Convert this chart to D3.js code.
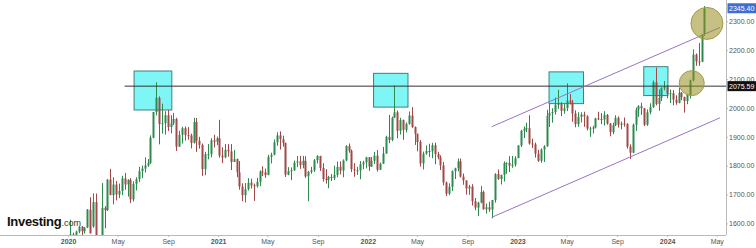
<!DOCTYPE html>
<html>
<head>
<meta charset="utf-8">
<script src="https://cdn.jsdelivr.net/npm/d3@7"></script>
<style>
  html, body { margin: 0; padding: 0; background: #fff; }
  svg { display: block; font-family: "Liberation Sans", Arial, sans-serif; }
</style>
</head>
<body>
<svg id="chart" width="756" height="248"></svg>
<script>
// weekly gold futures candles [open, high, low, close], one array per year
const start2020 = "2019-12-30";
const weeks2020 = [
  [1519,1553,1515,1552],[1552,1613,1548,1562],[1562,1568,1536,1560],[1560,1575,1550,1572],
  [1572,1591,1566,1589],[1589,1591,1549,1573],[1573,1588,1565,1586],[1586,1650,1584,1648],
  [1648,1691,1565,1566],[1590,1704,1585,1674],[1674,1704,1507,1530],[1530,1560,1451,1484],
  [1484,1740,1482,1654],[1654,1660,1583,1646],[1646,1753,1643,1752],[1752,1789,1700,1698],
  [1698,1760,1666,1735],[1735,1747,1680,1700],[1700,1738,1688,1713],[1713,1765,1698,1756],
  [1756,1775,1717,1735],[1735,1753,1693,1751],[1751,1757,1671,1683],[1683,1746,1676,1737],
  [1737,1760,1714,1753],[1753,1796,1743,1781],[1781,1800,1757,1790],[1790,1829,1776,1801],
  [1801,1823,1796,1810],[1810,1905,1806,1897],[1897,1985,1895,1986],[1986,2089,1974,2035],
  [2035,2040,1874,1944],[1944,2015,1911,1947],[1947,1989,1908,1975],[1975,1993,1920,1934],
  [1934,1975,1912,1947],[1947,1983,1941,1962],[1962,1966,1851,1866],[1866,1921,1866,1907],
  [1907,1935,1877,1930],[1930,1936,1887,1906],[1906,1934,1890,1905],[1905,1911,1860,1879],
  [1879,1966,1877,1951],[1951,1965,1848,1886],[1886,1900,1859,1872],[1872,1877,1765,1788],
  [1788,1848,1767,1840],[1840,1875,1822,1840],[1840,1895,1829,1888],[1888,1907,1863,1883],
  [1883,1901,1871,1895]
];
const start2021 = "2021-01-04";
const weeks2021 = [
  [1895,1959,1828,1835],[1835,1864,1809,1829],[1829,1875,1826,1855],[1855,1875,1831,1850],
  [1850,1875,1785,1813],[1813,1855,1813,1823],[1823,1825,1760,1777],[1777,1816,1717,1728],
  [1728,1739,1677,1698],[1698,1740,1673,1719],[1719,1757,1714,1741],[1741,1755,1721,1732],
  [1732,1738,1678,1729],[1729,1758,1724,1744],[1744,1784,1729,1780],[1780,1798,1764,1777],
  [1777,1790,1758,1768],[1768,1838,1767,1831],[1831,1845,1808,1838],[1838,1891,1836,1881],
  [1881,1916,1869,1905],[1905,1919,1856,1892],[1892,1904,1866,1879],[1879,1880,1761,1769],
  [1769,1795,1767,1781],[1781,1794,1750,1784],[1784,1818,1782,1811],[1811,1834,1795,1815],
  [1815,1834,1789,1802],[1802,1834,1791,1817],[1817,1833,1758,1763],[1763,1782,1677,1779],
  [1779,1796,1772,1784],[1784,1823,1778,1819],[1819,1836,1808,1834],[1834,1834,1782,1792],
  [1792,1809,1745,1754],[1754,1788,1738,1751],[1751,1765,1722,1761],[1761,1771,1747,1757],
  [1757,1800,1750,1768],[1768,1814,1760,1796],[1796,1815,1770,1783],[1783,1822,1760,1818],
  [1818,1871,1816,1868],[1868,1877,1845,1852],[1852,1856,1778,1788],[1788,1809,1762,1784],
  [1784,1796,1768,1784],[1784,1816,1753,1805],[1805,1817,1788,1811],[1811,1831,1791,1829]
];
const start2022 = "2022-01-03";
const weeks2022 = [
  [1829,1830,1782,1797],[1797,1830,1796,1817],[1817,1848,1806,1835],[1835,1854,1780,1786],
  [1786,1811,1785,1807],[1807,1865,1806,1842],[1842,1904,1842,1900],[1900,1976,1878,1889],
  [1889,1970,1885,1966],[1966,2078,1965,1985],[1985,1991,1895,1921],[1921,1966,1908,1958],
  [1958,1960,1890,1924],[1924,1950,1915,1945],[1945,1988,1942,1974],[1974,2003,1931,1934],
  [1934,1936,1872,1911],[1911,1911,1850,1882],[1882,1889,1797,1808],[1808,1849,1787,1842],
  [1842,1870,1838,1851],[1851,1876,1830,1850],[1850,1879,1826,1871],[1871,1880,1805,1840],
  [1840,1848,1822,1829],[1829,1836,1785,1801],[1801,1813,1732,1742],[1742,1745,1695,1703],
  [1703,1739,1698,1727],[1727,1784,1712,1781],[1781,1793,1754,1791],[1791,1825,1781,1815],
  [1815,1825,1759,1762],[1762,1773,1734,1749],[1749,1749,1700,1721],[1721,1734,1699,1728],
  [1728,1736,1662,1677],[1677,1688,1646,1655],[1655,1675,1626,1672],[1672,1730,1670,1709],
  [1709,1714,1648,1649],[1649,1669,1634,1656],[1656,1675,1640,1648],[1648,1680,1618,1681],
  [1681,1774,1672,1771],[1771,1787,1751,1754],[1754,1769,1735,1768],[1768,1815,1745,1809],
  [1809,1812,1772,1810],[1810,1833,1778,1800],[1800,1834,1793,1804],[1804,1833,1797,1826]
];
const start2023 = "2023-01-02";
const weeks2023 = [
  [1826,1871,1830,1870],[1870,1924,1865,1921],[1921,1936,1896,1928],[1928,1949,1916,1930],
  [1930,1975,1873,1877],[1877,1894,1861,1874],[1874,1880,1828,1842],[1842,1855,1813,1817],
  [1817,1860,1810,1856],[1856,1871,1813,1867],[1867,1994,1866,1973],[1973,2014,1934,1983],
  [1983,1999,1949,1986],[1986,2036,1977,2011],[2011,2063,1997,2015],[2015,2020,1972,1990],
  [1990,2015,1980,1999],[1999,2085,1989,2025],[2025,2048,2012,2019],[2019,2028,1952,1981],
  [1981,1992,1933,1944],[1944,1985,1935,1969],[1969,1985,1950,1977],[1977,1987,1935,1971],
  [1971,1975,1922,1929],[1929,1935,1900,1929],[1929,1938,1912,1932],[1932,1966,1929,1964],
  [1964,1987,1958,1962],[1962,1982,1944,1960],[1960,1989,1939,1976],[1976,1979,1942,1946],
  [1946,1948,1902,1916],[1916,1949,1909,1940],[1940,1975,1937,1966],[1966,1971,1932,1942],
  [1942,1953,1926,1946],[1946,1967,1935,1945],[1945,1947,1859,1866],[1866,1874,1823,1845],
  [1845,1946,1843,1942],[1942,2002,1920,1994],[1994,2010,1969,2006],[2006,2018,1976,1999],
  [1999,2000,1937,1942],[1942,1995,1938,1985],[1985,2016,1978,2003],[2003,2095,2000,2089],
  [2089,2140,2009,2014],[2014,2064,1990,2035],[2035,2072,2024,2069],[2069,2093,2061,2072]
];
const start2024 = "2024-01-01";
const weeks2024 = [
  [2072,2079,2034,2049],[2049,2064,2017,2051],[2051,2062,2009,2029],[2029,2044,2011,2018],
  [2018,2071,2016,2053],[2053,2055,2027,2038],[2038,2039,1984,2024],[2024,2049,2013,2045],
  [2045,2098,2033,2096],[2096,2203,2092,2185],[2185,2189,2146,2161],[2161,2225,2146,2160],
  [2160,2256,2160,2254],[2257,2353,2250,2345.4]
];

const yTicks = [1600, 1700, 1800, 1900, 2000, 2100, 2200, 2300];
const xTicks = ["2020-01-01","2020-05-01","2020-09-01","2021-01-01","2021-05-01","2021-09-01",
  "2022-01-01","2022-05-01","2022-09-01","2023-01-01","2023-05-01","2023-09-01",
  "2024-01-01","2024-05-01"];

// annotations: resistance level, boxes, channel, circles
const resistance = { from: "2020-05-18", price: 2075.59 };
const lastPrice = 2345.40;
const boxes = [
  ["2020-06-10", "2020-09-10", 2128, 1993],
  ["2022-01-15", "2022-04-09", 2120, 2003],
  ["2023-03-19", "2023-06-11", 2125, 2015],
  ["2023-11-05", "2024-01-03", 2143, 2043]
];
const channel = [
  ["2022-10-30", 1935, "2024-05-09", 2279],
  ["2022-10-30", 1621, "2024-05-09", 1966]
];
const circles = [
  ["2024-03-01", 2086, 12.5],
  ["2024-04-07", 2293, 16]
];

const parse = d3.utcParse("%Y-%m-%d");

function toCandles(startStr, rows) {
  const start = parse(startStr);
  return rows.map((r, i) => ({ date: d3.utcWeek.offset(start, i), o: r[0], h: r[1], l: r[2], c: r[3] }));
}

const candles = [].concat(
  toCandles(start2020, weeks2020),
  toCandles(start2021, weeks2021),
  toCandles(start2022, weeks2022),
  toCandles(start2023, weeks2023),
  toCandles(start2024, weeks2024)
);

const svg = d3.select("#chart");
const plotW = 726, plotH = 235;

const x = d3.scaleUtc()
  .domain([parse("2019-07-19"), parse("2024-05-26")])
  .range([0, 727]);

const y = d3.scaleLinear()
  .domain([1560, 2374])
  .range([plotH, 0]);

svg.append("defs").append("clipPath").attr("id", "plot-clip")
  .append("rect").attr("width", plotW).attr("height", plotH);

const plot = svg.append("g").attr("clip-path", "url(#plot-clip)");

// watermark
const logo = svg.append("text")
  .attr("x", 7)
  .attr("y", 225.5)
  .attr("fill", "#111");
logo.append("tspan").attr("font-size", 13).attr("font-weight", "bold").attr("letter-spacing", -0.3).text("Investing");
logo.append("tspan").attr("font-size", 9).attr("fill", "#333").text(".com");

// boxes behind candles
plot.selectAll("rect.zone")
  .data(boxes)
  .enter().append("rect")
  .attr("class", "zone")
  .attr("x", d => x(parse(d[0])))
  .attr("y", d => y(d[2]))
  .attr("width", d => x(parse(d[1])) - x(parse(d[0])))
  .attr("height", d => y(d[3]) - y(d[2]))
  .attr("fill", "#7ff6f6")
  .attr("stroke", "#3f7f80")
  .attr("stroke-width", 1);

// candles
const candle = plot.selectAll("g.candle")
  .data(candles)
  .enter().append("g")
  .attr("class", "candle")
  .attr("transform", d => "translate(" + Math.round(x(d.date)) + ",0)");

const color = d => d.c >= d.o ? "#2f8a4e" : "#a24848";

candle.append("line")
  .attr("x1", 0.5).attr("x2", 0.5)
  .attr("y1", d => y(d.h))
  .attr("y2", d => y(d.l))
  .attr("stroke", color)
  .attr("stroke-width", 1);

candle.append("rect")
  .attr("x", -0.5)
  .attr("width", 2)
  .attr("y", d => y(Math.max(d.o, d.c)))
  .attr("height", d => Math.max(1, Math.abs(y(d.o) - y(d.c))))
  .attr("fill", color);

// resistance line
plot.append("line")
  .attr("x1", x(parse(resistance.from)))
  .attr("x2", plotW)
  .attr("y1", y(resistance.price))
  .attr("y2", y(resistance.price))
  .attr("stroke", "#333")
  .attr("stroke-width", 1);

// channel
plot.selectAll("line.channel")
  .data(channel)
  .enter().append("line")
  .attr("class", "channel")
  .attr("x1", d => x(parse(d[0])))
  .attr("y1", d => y(d[1]))
  .attr("x2", d => x(parse(d[2])))
  .attr("y2", d => y(d[3]))
  .attr("stroke", "#9a74c6")
  .attr("stroke-width", 1);

// highlight circles
plot.selectAll("circle.mark")
  .data(circles)
  .enter().append("circle")
  .attr("class", "mark")
  .attr("cx", d => x(parse(d[0])))
  .attr("cy", d => y(d[1]))
  .attr("r", d => d[2])
  .attr("fill", "rgba(150,140,30,0.55)")
  .attr("stroke", "#a39d45")
  .attr("stroke-width", 1);

// axes
const yAxis = svg.append("g")
  .attr("transform", "translate(" + plotW + ",0)")
  .call(d3.axisRight(y).tickValues(yTicks).tickSize(2).tickPadding(1).tickFormat(d3.format(".2f")));
yAxis.select(".domain").attr("stroke", "#bbb").attr("d", "M0.5,0V" + plotH);
yAxis.selectAll(".tick line").attr("stroke", "#bbb");
yAxis.selectAll("text").attr("fill", "#555").attr("font-size", 7)
  .attr("font-family", "Liberation Sans, Arial, sans-serif");

const monthFmt = d3.utcFormat("%b");
const xAxis = svg.append("g")
  .attr("transform", "translate(0," + plotH + ")")
  .call(d3.axisBottom(x)
    .tickValues(xTicks.map(parse))
    .tickSize(2)
    .tickPadding(2)
    .tickFormat(d => d.getUTCMonth() === 0 ? d.getUTCFullYear() : monthFmt(d)));
xAxis.select(".domain").attr("stroke", "#bbb").attr("d", "M0,0.5H" + plotW);
xAxis.selectAll(".tick line").attr("stroke", "#bbb");
xAxis.selectAll("text")
  .attr("fill", "#555")
  .attr("font-size", 7)
  .attr("font-family", "Liberation Sans, Arial, sans-serif")
  .attr("font-weight", d => d.getUTCMonth() === 0 ? "bold" : "normal");

// price tags
function priceTag(price, bg) {
  const g = svg.append("g").attr("transform", "translate(" + (plotW + 1.5) + "," + y(price) + ")");
  g.append("rect").attr("x", 0).attr("y", -5).attr("width", 28.5).attr("height", 10).attr("fill", bg);
  g.append("text").attr("x", 1.5).attr("y", 0).attr("dy", "0.35em")
    .attr("fill", "#fff").attr("font-size", 7).text(d3.format(".2f")(price));
}
priceTag(resistance.price, "#111");
priceTag(lastPrice, "#3d6fd3");
</script>
</body>
</html>
